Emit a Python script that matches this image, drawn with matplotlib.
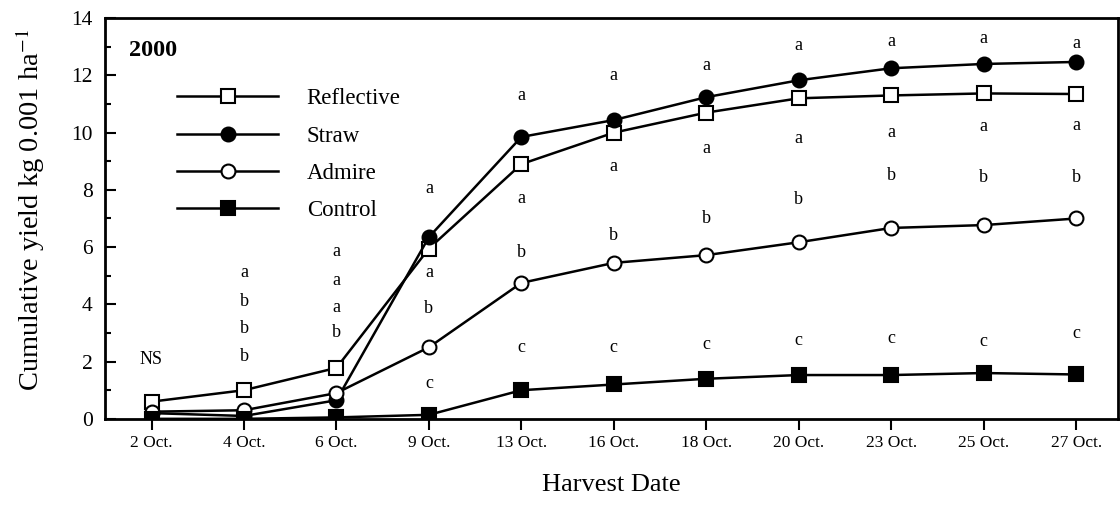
import matplotlib.pyplot as plt
import numpy as np
from matplotlib.ticker import MultipleLocator

plt.rcParams['font.family'] = ['Liberation Serif', 'DejaVu Serif']
plt.rcParams['mathtext.fontset'] = 'stix'

dates = ['2 Oct.', '4 Oct.', '6 Oct.', '9 Oct.', '13 Oct.', '16 Oct.',
         '18 Oct.', '20 Oct.', '23 Oct.', '25 Oct.', '27 Oct.']
reflective = [0.6, 1.0, 1.78, 5.95, 8.9, 10.0, 10.7, 11.2, 11.3, 11.37, 11.35]
straw = [0.2, 0.1, 0.65, 6.35, 9.85, 10.44, 11.24, 11.83, 12.25, 12.4, 12.47]
admire = [0.25, 0.3, 0.9, 2.5, 4.75, 5.45, 5.72, 6.17, 6.67, 6.77, 7.0]
control = [0.0, 0.0, 0.05, 0.14, 1.0, 1.2, 1.4, 1.53, 1.53, 1.6, 1.55]

# significance letters: (date index, y, text)
letters = [
    (0, 2.06, 'NS'),
    (1, 5.1, 'a'), (1, 4.1, 'b'), (1, 3.17, 'b'), (1, 2.17, 'b'),
    (2, 5.83, 'a'), (2, 4.85, 'a'), (2, 3.9, 'a'), (2, 3.0, 'b'),
    (3, 8.05, 'a'), (3, 5.13, 'a'), (3, 3.87, 'b'), (3, 1.25, 'c'),
    (4, 11.3, 'a'), (4, 7.7, 'a'), (4, 5.8, 'b'), (4, 2.48, 'c'),
    (5, 12.0, 'a'), (5, 8.8, 'a'), (5, 6.4, 'b'), (5, 2.48, 'c'),
    (6, 12.36, 'a'), (6, 9.46, 'a'), (6, 7.0, 'b'), (6, 2.58, 'c'),
    (7, 13.05, 'a'), (7, 9.8, 'a'), (7, 7.65, 'b'), (7, 2.75, 'c'),
    (8, 13.2, 'a'), (8, 10.0, 'a'), (8, 8.5, 'b'), (8, 2.82, 'c'),
    (9, 13.3, 'a'), (9, 10.2, 'a'), (9, 8.45, 'b'), (9, 2.7, 'c'),
    (10, 13.1, 'a'), (10, 10.25, 'a'), (10, 8.45, 'b'), (10, 2.97, 'c'),
]

x = np.arange(len(dates))

fig = plt.figure(figsize=(11.2, 5.19), dpi=100)
ax = fig.add_axes([0.094, 0.193, 0.904, 0.772])

style = dict(color='black', lw=1.8, markersize=10, markeredgewidth=1.5)
ax.plot(x, reflective, marker='s', mfc='white', mec='black', label='Reflective', **style)
ax.plot(x, straw, marker='o', mfc='black', mec='black', label='Straw', **style)
ax.plot(x, admire, marker='o', mfc='white', mec='black', label='Admire', **style)
ax.plot(x, control, marker='s', mfc='black', mec='black', label='Control', **style)

for i, y, t in letters:
    ax.text(x[i], y, t, ha='center', va='center', fontsize=13)

ax.text(0.023, 0.92, '2000', transform=ax.transAxes, fontsize=17.5, fontweight='bold',
        ha='left', va='center')

ax.set_xlim(-0.5, 10.45)
ax.set_ylim(0, 14)
ax.set_xticks(x)
ax.set_xticklabels(dates, fontsize=12.5)
ax.yaxis.set_major_locator(MultipleLocator(2))
ax.yaxis.set_minor_locator(MultipleLocator(1))
ax.tick_params(axis='y', which='major', direction='in', length=8, width=1.5, labelsize=15.5, pad=9)
ax.tick_params(axis='y', which='minor', direction='in', length=4, width=1.5)
ax.tick_params(axis='x', direction='out', length=8, width=1.5, pad=4)
for s in ax.spines.values():
    s.set_linewidth(2)

ax.set_xlabel('Harvest Date', fontsize=19, labelpad=16)
ax.set_ylabel('Cumulative yield kg 0.001 ha$^{-1}$', fontsize=20.5)
ax.yaxis.set_label_coords(-0.058, 0.52)

ax.legend(loc='upper left', bbox_to_anchor=(0.062, 0.8475), frameon=False, fontsize=16.5,
          handlelength=4.4, labelspacing=0.7, handletextpad=1.25, borderaxespad=0)

fig.savefig('out.png', dpi=100)
